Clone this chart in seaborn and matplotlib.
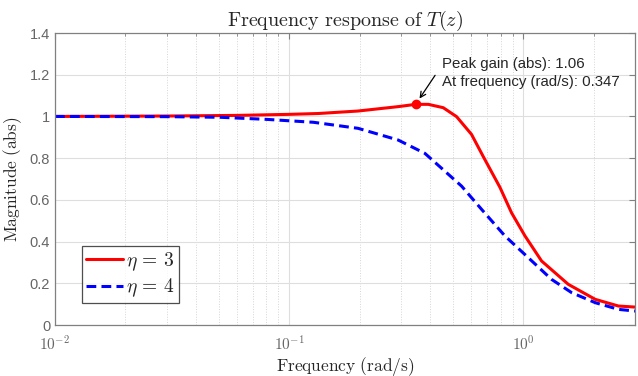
import numpy as np
import pandas as pd
import matplotlib
matplotlib.use("Agg")
import matplotlib.pyplot as plt
import seaborn as sns
from matplotlib.ticker import LogLocator, NullFormatter

sns.set_style("whitegrid")
plt.rcParams["mathtext.fontset"] = "cm"
plt.rcParams["font.family"] = ["Liberation Sans", "DejaVu Sans"]

# Donnees
freq_eta3 = [0.01, 0.03, 0.06, 0.1, 0.133, 0.197, 0.292, 0.347, 0.393, 0.455, 0.519,
             0.601, 0.675, 0.795, 0.891, 1.017, 1.197, 1.557, 2.03, 2.55, 3.0]
mag_eta3 = [1.0, 1.002, 1.005, 1.01, 1.014, 1.026, 1.047, 1.058, 1.058, 1.042, 0.999,
            0.914, 0.807, 0.66, 0.538, 0.427, 0.307, 0.195, 0.123, 0.091, 0.086]
freq_eta4 = [0.01, 0.03, 0.0507, 0.08, 0.127, 0.197, 0.292, 0.38, 0.545, 0.663,
             0.835, 1.05, 1.32, 1.61, 2.03, 2.55, 3.0]
mag_eta4 = [1.0, 0.999, 0.996, 0.986, 0.972, 0.943, 0.887, 0.823, 0.666, 0.555,
            0.427, 0.323, 0.219, 0.155, 0.107, 0.075, 0.067]
peak_freq = 0.347
peak_gain = 1.058
labels = [r"$\eta\,=\,3$", r"$\eta\,=\,4$"]
xtick_vals = [0.01, 0.1, 1]
xtick_labels = [r"$\mathsf{10^{-2}}$", r"$\mathsf{10^{-1}}$", r"$\mathsf{10^{0}}$"]
ytick_vals = [0, 0.2, 0.4, 0.6, 0.8, 1.0, 1.2, 1.4]
ytick_labels = ["0", "0.2", "0.4", "0.6", "0.8", "1", "1.2", "1.4"]

df = pd.concat([
    pd.DataFrame({"freq": freq_eta3, "mag": mag_eta3, "serie": labels[0]}),
    pd.DataFrame({"freq": freq_eta4, "mag": mag_eta4, "serie": labels[1]}),
])

fig = plt.figure(figsize=(6.38, 3.76), dpi=100)
ax = fig.add_axes([0.0862, 0.1356, 0.9091, 0.7766])

sns.lineplot(data=df, x="freq", y="mag", hue="serie", style="serie",
             palette={labels[0]: "#ff0000", labels[1]: "#0000ff"},
             dashes={labels[0]: "", labels[1]: (3.2, 1.7)},
             linewidth=2.2, ax=ax, sort=False)
ax.plot([peak_freq], [peak_gain], "o", color="#ff0000", markersize=6)

ax.set_xscale("log")
ax.set_xlim(0.01, 3.0)
ax.set_ylim(0, 1.4)
ax.set_yticks(ytick_vals)
ax.set_yticklabels(ytick_labels)
ax.set_xticks(xtick_vals)
ax.set_xticklabels(xtick_labels)
ax.xaxis.set_minor_locator(LogLocator(base=10, subs=np.arange(2, 10), numticks=20))
ax.xaxis.set_minor_formatter(NullFormatter())

ax.grid(True, which="major", color="#dedede", linewidth=0.8, linestyle="-")
ax.grid(True, which="minor", axis="x", color="#d5d5d5", linewidth=0.7, linestyle=":")
ax.set_axisbelow(True)
for s in ax.spines.values():
    s.set_color("#808080")
    s.set_linewidth(0.9)
ax.tick_params(which="both", direction="in", top=True, right=True,
               colors="#808080", labelcolor="#666666", labelsize=10.5)
ax.tick_params(which="major", length=4)
ax.tick_params(which="minor", length=2)
ax.tick_params(axis="x", which="major", pad=7, labelsize=11)

ax.set_title(r"$\mathrm{Frequency\ response\ of\ }T(z)$", fontsize=14.5, pad=5)
ax.set_xlabel(r"$\mathrm{Frequency\ (rad/s)}$", fontsize=12.5, labelpad=1)
ax.set_ylabel(r"$\mathrm{Magnitude\ (abs)}$", fontsize=12.5, labelpad=4)

ax.annotate("", xy=(peak_freq, peak_gain), xytext=(0.658, 0.863),
            textcoords="axes fraction",
            arrowprops=dict(arrowstyle="->", color="black", lw=0.9, shrinkB=5))
ax.text(0.668, 0.918, "Peak gain (abs): 1.06\nAt frequency (rad/s): 0.347",
        transform=ax.transAxes, fontsize=10.8, va="top", ha="left", linespacing=1.4)

leg = ax.legend(loc="lower left", bbox_to_anchor=(0.046, 0.075), fontsize=14,
                frameon=True, fancybox=False, handlelength=1.95, handletextpad=0.15,
                borderpad=0.2, labelspacing=0.2, borderaxespad=0)
leg.get_frame().set_edgecolor("#222222")
leg.get_frame().set_linewidth(0.9)

fig.savefig("out.png", dpi=100)
